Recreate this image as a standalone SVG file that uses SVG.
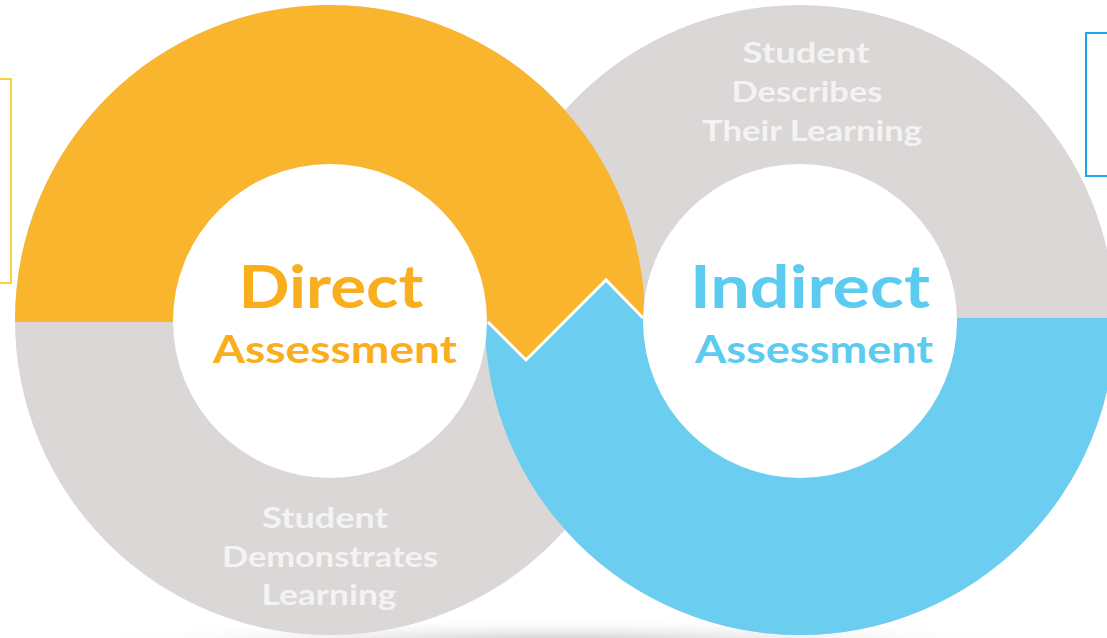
<svg xmlns="http://www.w3.org/2000/svg" width="1107" height="638" viewBox="0 0 1107 638">
  <style>
    .title { font-family: Lato, "Open Sans", "Liberation Sans", sans-serif; font-weight: 700; text-anchor: middle; }
    .sub { font-family: Lato, "Open Sans", "Liberation Sans", sans-serif; font-weight: 700; text-anchor: middle; fill: #F4F3F3; font-size: 28px; }
    .gray { fill: #DAD7D6; }
    .orange { fill: #F9B52E; }
    .blue { fill: #6BCDEF; }
    .hole { fill: #FFFFFF; }
  </style>
  <defs>
    <radialGradient id="shadow" cx="0.5" cy="0.5" r="0.5">
      <stop offset="0" stop-color="#C8C8C8" stop-opacity="0.9"/>
      <stop offset="1" stop-color="#FFFFFF" stop-opacity="0"/>
    </radialGradient>
    <clipPath id="upper">
      <polygon points="0,0 1107,0 1107,318 643,318 606,280 526,360 488,322 0,322"/>
    </clipPath>
    <clipPath id="lower">
      <polygon points="0,322 488,322 526,360 606,280 643,318 1107,318 1107,638 0,638"/>
    </clipPath>
  </defs>
  <rect width="1107" height="638" fill="#FFFFFF"/>
  <ellipse cx="560" cy="640" rx="500" ry="22" fill="url(#shadow)"/>

  <g id="ring-left-base">
    <circle class="gray" cx="330" cy="320" r="315"/>
  </g>
  <g id="ring-right-base">
    <circle class="gray" cx="800" cy="320" r="315"/>
  </g>
  <g id="direct-arc">
    <circle class="orange" cx="330" cy="320" r="315" clip-path="url(#upper)"/>
  </g>
  <g id="indirect-arc">
    <circle class="blue" cx="800" cy="320" r="315" clip-path="url(#lower)"/>
  </g>
  <g id="connectors">
    <polyline points="488,322 526,360 606,280 643,318" fill="none" stroke="#FFFFFF" stroke-width="3" stroke-linejoin="miter"/>
  </g>

  <g id="direct-node">
    <circle class="hole" cx="330" cy="321" r="157"/>
    <text class="title" x="331" y="308" font-size="60" fill="#F9AE1E" textLength="185" lengthAdjust="spacingAndGlyphs">Direct</text>
    <text class="title" x="335" y="363" font-size="39" fill="#F9AE1E" textLength="244" lengthAdjust="spacingAndGlyphs">Assessment</text>
  </g>
  <g id="indirect-node">
    <circle class="hole" cx="800" cy="321" r="157"/>
    <text class="title" x="810" y="308" font-size="60" fill="#5CCBF0" textLength="240" lengthAdjust="spacingAndGlyphs">Indirect</text>
    <text class="title" x="814" y="363" font-size="39" fill="#5CCBF0" textLength="238" lengthAdjust="spacingAndGlyphs">Assessment</text>
  </g>

  <g id="describes-label">
    <text class="sub" x="806" y="63" textLength="127" lengthAdjust="spacingAndGlyphs">Student</text>
    <text class="sub" x="807" y="102" textLength="151" lengthAdjust="spacingAndGlyphs">Describes</text>
    <text class="sub" x="812" y="141" textLength="220" lengthAdjust="spacingAndGlyphs">Their Learning</text>
  </g>
  <g id="demonstrates-label">
    <text class="sub" x="325" y="528" textLength="126" lengthAdjust="spacingAndGlyphs">Student</text>
    <text class="sub" x="330" y="567" textLength="216" lengthAdjust="spacingAndGlyphs">Demonstrates</text>
    <text class="sub" x="329" y="605" textLength="135" lengthAdjust="spacingAndGlyphs">Learning</text>
  </g>

  <g id="box-left">
    <rect x="-2" y="79" width="13" height="204" fill="none" stroke="#F5C400" stroke-width="1.5"/>
  </g>
  <g id="box-right">
    <rect x="1086" y="33" width="30" height="143" fill="none" stroke="#1AA6EA" stroke-width="2"/>
  </g>
</svg>
